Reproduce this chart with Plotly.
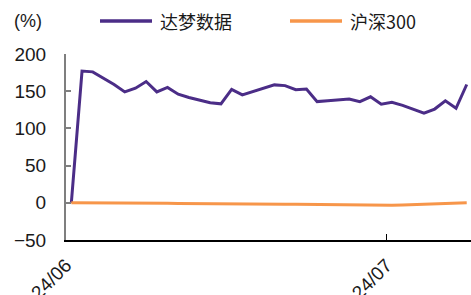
import plotly.graph_objects as go

# ---- data ----
series_names = ["达梦数据", "沪深300"]
dameng = [0, 177, 176, 168, 159, 149, 154, 163, 149, 155,
          146, 141.5, 138, 134.5, 133, 152.5, 145, 149.5, 154, 158.5,
          157.5, 152, 153, 136, 137, 138, 139.5, 136, 142.5, 132.5,
          135, 131, 125.5, 120.5, 126, 137, 127, 159]
hs300 = [0, 0, 0.3, 0.4, 0.4, 0.3, 0.2, 0.1, -0.2, -0.6,
         -1, -1.2, -1.3, -1.5, -1.8, -2, -1.6, -2.2, -2.2, -2,
         -2, -1.8, -2, -2.4, -2.6, -3, -3.3, -3.6, -4, -4.2,
         -3.4, -3, -2.6, -2.3, -2, -1.6, -1, 0]
x_idx = list(range(len(dameng)))
x_tick_labels = ["24/06", "24/07"]
y_tick_values = [-50, 0, 50, 100, 150, 200]
y_unit = "(%)"

PURPLE = "#4B2D87"
ORANGE = "#F7964A"
colors = [PURPLE, ORANGE]

fig = go.Figure()
for name, vals, col in zip(series_names, [dameng, hs300], colors):
    fig.add_trace(go.Scatter(x=x_idx, y=vals, mode="lines", name=name,
                             line=dict(color=col, width=3), showlegend=False))

W, H = 471, 295
L, R, T, B = 66, 0, 54, 55
pw, ph = W - L - R, H - T - B

def px(xp):
    return (xp - L) / pw

def py(yp):
    return (H - B - yp) / ph

# custom legend (longer line samples, as in the reference)
leg_y = py(21)
leg_items = [(100, 152, 158), (290, 342, 348)]
for (x0, x1, xt), name, col in zip(leg_items, series_names, colors):
    fig.add_shape(type="line", xref="paper", yref="paper",
                  x0=px(x0), x1=px(x1), y0=leg_y, y1=leg_y,
                  line=dict(color=col, width=3.5))
    fig.add_annotation(xref="paper", yref="paper", x=px(xt), y=leg_y,
                       text=name, showarrow=False, xanchor="left", yanchor="middle",
                       font=dict(family="Noto Sans CJK SC", size=18, color="#1a1a1a"))

fig.add_annotation(xref="paper", yref="paper", x=px(12), y=py(21),
                   text=y_unit, showarrow=False, xanchor="left", yanchor="middle",
                   font=dict(family="Liberation Sans", size=18, color="#1a1a1a"))

fig.update_layout(
    width=W, height=H,
    margin=dict(l=L, r=R, t=T, b=B, pad=0, autoexpand=False),
    plot_bgcolor="white", paper_bgcolor="white",
    font=dict(family="Liberation Sans", size=18, color="#1a1a1a"),
)
fig.update_xaxes(
    range=[-0.5, 37.4], automargin=False,
    tickmode="array", tickvals=[-0.5, 29.5], ticktext=x_tick_labels,
    tickangle=-45, ticks="inside", ticklen=6, tickcolor="#000000", tickwidth=1,
    showline=True, linecolor="#000000", linewidth=1.5,
    showgrid=False, zeroline=False, ticklabelstandoff=5,
    tickfont=dict(family="Liberation Sans", size=19, color="#1a1a1a"),
)
fig.update_yaxes(
    range=[-50, 200], automargin=False, tickmode="array", tickvals=y_tick_values,
    ticks="inside", ticklen=5, tickcolor="#7f7f7f", tickwidth=1.5,
    showline=True, linecolor="#7f7f7f", linewidth=2,
    showgrid=False, zeroline=False, ticklabelstandoff=14,
    tickfont=dict(family="Liberation Sans", size=19, color="#1a1a1a"),
)

fig.write_html("out.html", config={"displayModeBar": False},
               post_script="document.body.style.margin='0';")
